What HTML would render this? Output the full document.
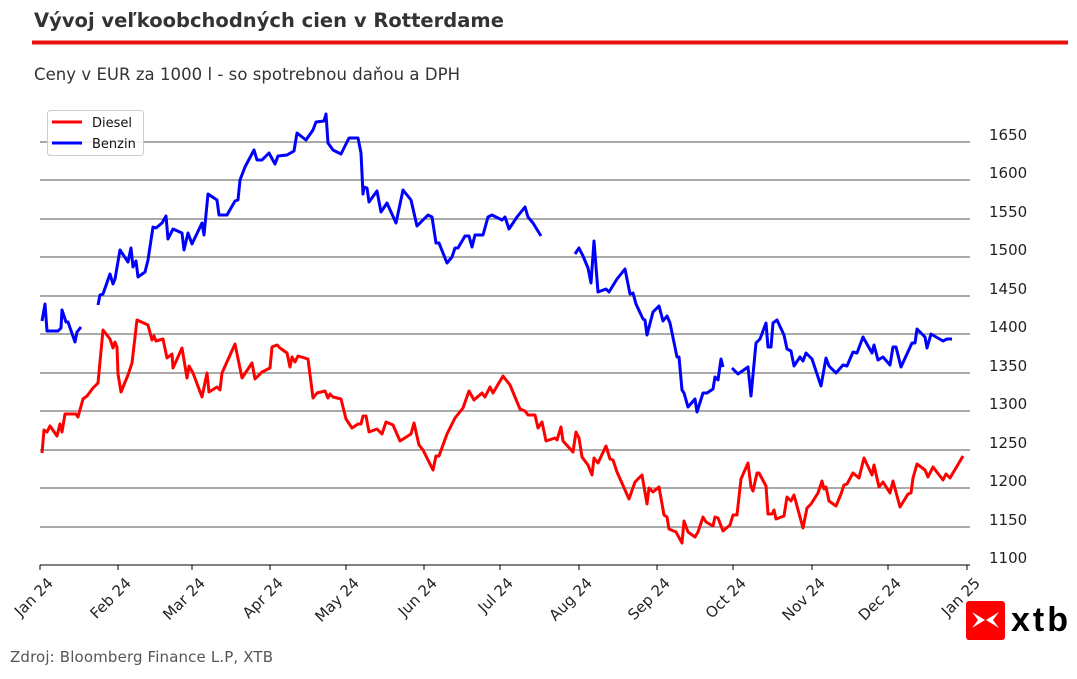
<!DOCTYPE html>
<html><head><meta charset="utf-8"><style>
body{margin:0;background:#fff;width:1077px;height:674px;overflow:hidden;font-family:"Liberation Sans","DejaVu Sans",sans-serif}
</style></head><body>
<svg width="1077" height="674" xmlns="http://www.w3.org/2000/svg" font-family="DejaVu Sans, Liberation Sans, sans-serif">
<text x="34" y="27" font-size="19.5" font-weight="bold" fill="#333" textLength="470">Vývoj veľkoobchodných cien v Rotterdame</text>
<rect x="32" y="40.5" width="1036" height="4" fill="#e8120c"/>
<text x="34" y="80" font-size="16.5" fill="#333" textLength="426">Ceny v EUR za 1000 l - so spotrebnou daňou a DPH</text>
<g stroke="#555" stroke-width="1">
<line x1="40" x2="970" y1="142" y2="142"/><line x1="40" x2="970" y1="180" y2="180"/><line x1="40" x2="970" y1="219" y2="219"/><line x1="40" x2="970" y1="257" y2="257"/><line x1="40" x2="970" y1="296" y2="296"/><line x1="40" x2="970" y1="334" y2="334"/><line x1="40" x2="970" y1="373" y2="373"/><line x1="40" x2="970" y1="411" y2="411"/><line x1="40" x2="970" y1="450" y2="450"/><line x1="40" x2="970" y1="488" y2="488"/><line x1="40" x2="970" y1="527" y2="527"/>
</g>
<line x1="40" x2="970" y1="565" y2="565" stroke="#000" stroke-width="1"/>
<g font-size="15" fill="#222">
<text x="989" y="140">1650</text><text x="989" y="178">1600</text><text x="989" y="217">1550</text><text x="989" y="255">1500</text><text x="989" y="294">1450</text><text x="989" y="332">1400</text><text x="989" y="371">1350</text><text x="989" y="409">1300</text><text x="989" y="448">1250</text><text x="989" y="486">1200</text><text x="989" y="525">1150</text><text x="989" y="563">1100</text>
</g>
<g stroke="#000" stroke-width="1">
<line x1="40" x2="40" y1="565" y2="570"/><line x1="118" x2="118" y1="565" y2="570"/><line x1="192" x2="192" y1="565" y2="570"/><line x1="270" x2="270" y1="565" y2="570"/><line x1="346" x2="346" y1="565" y2="570"/><line x1="424" x2="424" y1="565" y2="570"/><line x1="500" x2="500" y1="565" y2="570"/><line x1="579" x2="579" y1="565" y2="570"/><line x1="657" x2="657" y1="565" y2="570"/><line x1="733" x2="733" y1="565" y2="570"/><line x1="812" x2="812" y1="565" y2="570"/><line x1="888" x2="888" y1="565" y2="570"/><line x1="967" x2="967" y1="565" y2="570"/>
</g>
<g font-size="15" fill="#222" text-anchor="end">
<text transform="translate(54,584) rotate(-45)">Jan 24</text>
<text transform="translate(132,584) rotate(-45)">Feb 24</text>
<text transform="translate(206,584) rotate(-45)">Mar 24</text>
<text transform="translate(284,584) rotate(-45)">Apr 24</text>
<text transform="translate(360,584) rotate(-45)">May 24</text>
<text transform="translate(438,584) rotate(-45)">Jun 24</text>
<text transform="translate(514,584) rotate(-45)">Jul 24</text>
<text transform="translate(593,584) rotate(-45)">Aug 24</text>
<text transform="translate(671,584) rotate(-45)">Sep 24</text>
<text transform="translate(747,584) rotate(-45)">Oct 24</text>
<text transform="translate(826,584) rotate(-45)">Nov 24</text>
<text transform="translate(902,584) rotate(-45)">Dec 24</text>
<text transform="translate(981,584) rotate(-45)">Jan 25</text>
</g>
<g fill="none" stroke-width="3" stroke-linejoin="round">
<polyline stroke="#ff0000" points="42,453 44,430 47,432 50,426 57,436 60,424 62,432 65,414 76,414 78,417 83,399 87,396 93,388 98,383 103,330 110,339 113,348 115,342 117,347 118,374 121,392 128,375 132,363 137,320 148,325 152,340 154,336 156,341 163,339 167,358 172,354 173,368 182,348 187,378 189,366 193,373 202,397 207,373 209,392 217,387 220,390 222,373 235,344 242,378 252,363 255,379 262,372 270,368 272,347 277,345 280,348 287,353 290,367 292,357 295,362 298,356 308,359 313,398 317,393 325,391 328,398 330,394 333,397 341,399 346,419 352,428 358,424 361,424 363,416 366,416 369,432 377,429 382,434 386,422 393,425 400,441 411,434 414,423 419,445 423,450 433,470 436,456 439,456 447,434 455,418 463,408 469,391 474,400 482,393 485,397 490,387 493,393 503,376 510,385 520,409 525,411 528,415 535,415 538,428 542,422 546,441 555,438 557,440 561,427 563,441 573,452 576,432 579,438 582,457 588,465 592,475 594,458 598,463 606,446 610,459 613,460 617,472 625,490 629,499 635,482 642,475 647,504 649,488 653,492 659,487 664,515 667,517 669,529 676,532 682,543 684,521 688,532 695,537 698,532 703,517 706,522 713,526 715,517 718,518 723,531 730,525 733,515 737,515 741,479 748,463 751,487 753,491 757,473 759,473 766,486 768,514 772,514 774,510 776,519 784,516 787,497 791,501 794,495 803,528 807,508 811,504 818,493 822,481 824,489 826,487 829,501 836,506 841,494 844,485 847,484 853,473 859,478 864,458 872,475 874,465 879,487 883,482 890,493 893,481 900,507 908,494 911,493 913,478 917,464 925,470 928,477 933,467 943,480 946,474 950,478 963,456"/>
<polyline stroke="#0000ff" points="42,321 45,304 47,331 58,331 61,328 62,310 66,322 68,322 75,342 77,332 81,327"/>
<polyline stroke="#0000ff" points="98,305 100,295 103,294 110,274 113,284 115,279 120,250 128,262 131,248 133,267 136,261 138,277 145,272 148,260 153,227 156,228 162,223 166,216 168,239 173,229 182,233 184,250 188,233 192,244 202,223 204,235 208,194 217,200 219,215 227,215 235,201 238,200 240,180 245,167 254,150 257,160 262,160 269,153 275,164 278,156 287,155 294,151 297,133 306,140 313,130 316,122 324,121 326,114 328,143 333,150 341,154 349,138 358,138 361,153 363,194 364,187 367,188 369,202 377,191 381,212 387,203 396,223 403,190 411,200 417,226 428,215 432,217 436,243 439,243 447,263 452,257 455,248 458,248 465,236 469,236 472,247 475,235 483,235 488,217 492,215 502,220 505,217 509,229 517,217 525,207 528,217 533,223 541,236"/>
<polyline stroke="#0000ff" points="575,254 579,248 583,256 588,268 591,283 594,241 598,292 606,289 609,292 617,279 625,269 630,294 633,293 636,304 643,319 645,320 647,335 653,312 659,306 663,321 667,316 670,323 677,357 679,357 682,390 684,393 688,407 695,399 697,412 703,393 707,393 713,389 715,377 718,380 721,359 723,367"/>
<polyline stroke="#0000ff" points="732,368 738,374 748,367 751,396 756,343 760,339 766,323 768,347 771,347 773,323 777,320 784,335 787,349 791,351 794,366 800,357 803,361 806,353 812,359 821,386 826,358 829,366 836,373 843,365 847,366 853,352 857,353 863,337 872,353 874,345 878,360 883,357 890,365 893,347 896,347 901,367 912,343 915,343 917,329 925,337 927,348 931,334 943,341 947,339 952,339"/>
</g>
<rect x="47.5" y="110.5" width="96" height="45" rx="3" fill="#fff" fill-opacity="0.85" stroke="#ccc"/>
<line x1="52" x2="82" y1="122" y2="122" stroke="#ff0000" stroke-width="3"/>
<line x1="52" x2="82" y1="143" y2="143" stroke="#0000ff" stroke-width="3"/>
<text x="92" y="127" font-size="13" fill="#111">Diesel</text>
<text x="92" y="148" font-size="13" fill="#111">Benzin</text>
<text x="10" y="662" font-size="15" fill="#555" textLength="263">Zdroj: Bloomberg Finance L.P, XTB</text>
<rect x="966" y="601" width="39" height="39" rx="3" fill="#ff0000"/>
<path d="M972 612 L985 620 L972 628 L978 620 Z M999 612 L986 620 L999 628 L993 620 Z" fill="#fff"/>
<text x="1011" y="631" font-size="34" font-weight="bold" fill="#000" font-family="Liberation Sans, sans-serif" textLength="57">xtb</text>
</svg>
</body></html>
